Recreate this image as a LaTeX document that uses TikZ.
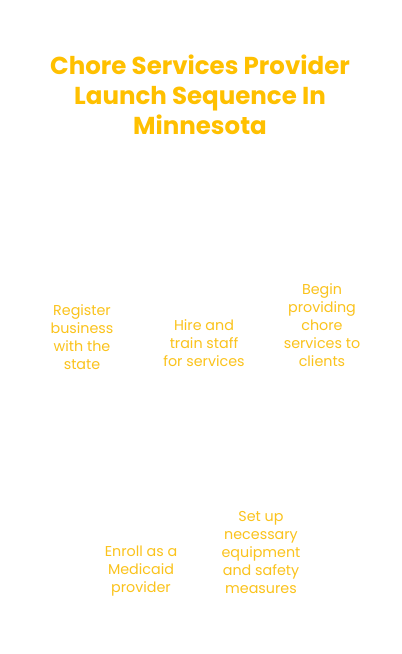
\documentclass[tikz,border=0pt]{standalone}
\usepackage{fontspec}
\setmainfont{Poppins}
\usetikzlibrary{positioning}

\definecolor{choreyellow}{HTML}{FFC000}
\definecolor{stepyellow}{HTML}{FBC31C}

\begin{document}
\begin{tikzpicture}[x=1pt,y=-1pt,
	title/.style={text=choreyellow,align=center,font=\fontsize{24.5}{30}\selectfont\bfseries},
	stepnode/.style={text=stepyellow,align=center,font=\fontsize{14.3}{18}\selectfont}]
	\useasboundingbox[fill=white] (0,0) rectangle (402,654);
	\node[title](T) at (200,95){Chore Services Provider\\Launch Sequence In\\Minnesota};
	
	\node[stepnode](R) at (82,337){Register\\business\\with the\\state};
	\node[stepnode](H) at (204,343){Hire and\\train staff\\for services};
	\node[stepnode](B) at (322,325){Begin\\providing\\chore\\services to\\clients};
	\node[stepnode](E) at (141,571){Enroll as a\\Medicaid\\provider};
	\node[stepnode](S) at (261,553){Set up\\necessary\\equipment\\and safety\\measures};
\end{tikzpicture}
\end{document}
